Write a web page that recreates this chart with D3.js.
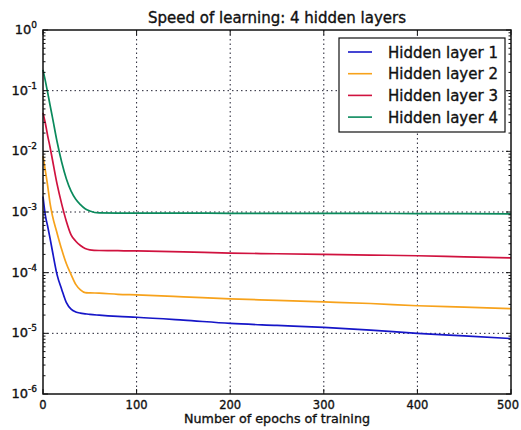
<!DOCTYPE html>
<html>
<head>
<meta charset="utf-8">
<script src="https://cdn.jsdelivr.net/npm/d3@7"></script>
<style>
  body { margin: 0; background: #fff; }
  text { font-family: "DejaVu Sans", sans-serif; fill: #111; stroke: #111; stroke-width: 0.35px; }
</style>
</head>
<body>
<div id="chart"></div>
<script>
// Data
const epochs = [0, 2.5, 5, 7.5, 10, 15, 20, 25, 30, 35, 40, 45, 50, 60, 80, 100, 150, 200, 250, 300, 350, 400, 450, 500];

const layer1 = [0.0018, 0.00088, 0.00058, 0.00037, 0.00023, 0.000093, 0.000053, 0.000032, 0.000025, 0.0000225, 0.0000215, 0.000021, 0.0000205, 0.0000199, 0.000019, 0.0000184, 0.0000165, 0.0000146, 0.0000135, 0.0000125, 0.0000113, 0.00001, 0.0000091, 0.0000082];
const layer2 = [0.0084, 0.0048, 0.0027, 0.0014, 0.00088, 0.00045, 0.00024, 0.00014, 0.000093, 0.000064, 0.000052, 0.000047, 0.0000465, 0.000046, 0.000044, 0.000043, 0.00004, 0.000037, 0.000035, 0.000033, 0.000031, 0.0000285, 0.000027, 0.0000255];
const layer3 = [0.043, 0.029, 0.018, 0.0118, 0.0074, 0.0029, 0.00135, 0.0007, 0.00042, 0.00033, 0.00028, 0.00025, 0.000238, 0.000232, 0.00023, 0.000228, 0.00022, 0.00021, 0.000205, 0.0002, 0.000195, 0.00019, 0.000182, 0.000175];
const layer4 = [0.22, 0.145, 0.093, 0.058, 0.037, 0.0145, 0.0066, 0.0035, 0.0022, 0.00162, 0.00132, 0.00113, 0.00104, 0.000965, 0.00096, 0.00096, 0.00096, 0.00095, 0.00095, 0.00095, 0.00095, 0.00094, 0.00094, 0.00093];

const seriesNames = ["Hidden layer 1", "Hidden layer 2", "Hidden layer 3", "Hidden layer 4"];
const seriesColors = ["#1616c8", "#f7a21b", "#d0123f", "#0a8a5c"];
const xTicks = [0, 100, 200, 300, 400, 500];
const yExponents = [0, -1, -2, -3, -4, -5, -6];

const series = [layer1, layer2, layer3, layer4].map((vals, i) => ({
    name: seriesNames[i],
    color: seriesColors[i],
    points: epochs.map((e, j) => ({ epoch: e, value: vals[j] }))
}));

const W = 521, H = 430;
const margin = { top: 30, right: 10, bottom: 36, left: 43 };
const width = W - margin.left - margin.right,
    height = H - margin.top - margin.bottom;

const svg = d3.select("#chart")
    .append("svg")
    .attr("width", W)
    .attr("height", H);

const g = svg.append("g")
    .attr("transform", `translate(${margin.left},${margin.top})`);

const x = d3.scaleLinear().domain([0, 500]).range([0, width]);
const y = d3.scaleLog().domain([1e-6, 1]).range([height, 0]);

// Grid (dotted)
g.append("g").selectAll("line")
    .data(xTicks.slice(1, -1))
    .enter().append("line")
    .attr("x1", d => x(d)).attr("x2", d => x(d))
    .attr("y1", 0).attr("y2", height)
    .attr("stroke", "#223")
    .attr("stroke-width", 1)
    .attr("stroke-dasharray", "1.5,3");

g.append("g").selectAll("line")
    .data(yExponents.slice(1, -1))
    .enter().append("line")
    .attr("x1", 0).attr("x2", width)
    .attr("y1", d => y(Math.pow(10, d))).attr("y2", d => y(Math.pow(10, d)))
    .attr("stroke", "#223")
    .attr("stroke-width", 1)
    .attr("stroke-dasharray", "1.5,3");

// Lines
const line = d3.line()
    .x(d => x(d.epoch))
    .y(d => y(d.value))
    .curve(d3.curveMonotoneX);

g.selectAll(".series")
    .data(series)
    .enter().append("path")
    .attr("class", "series")
    .attr("fill", "none")
    .attr("stroke", d => d.color)
    .attr("stroke-width", 1.7)
    .attr("d", d => line(d.points));

// Ticks inside, on all four sides
const minorVals = [];
for (let e = -6; e < 0; e++) {
    for (let m = 2; m <= 9; m++) minorVals.push(m * Math.pow(10, e));
}

const ticks = g.append("g").attr("stroke", "#111").attr("stroke-width", 1);
xTicks.forEach(t => {
    ticks.append("line").attr("x1", x(t)).attr("x2", x(t)).attr("y1", height).attr("y2", height - 5);
    ticks.append("line").attr("x1", x(t)).attr("x2", x(t)).attr("y1", 0).attr("y2", 5);
});
yExponents.forEach(e => {
    const yy = y(Math.pow(10, e));
    ticks.append("line").attr("x1", 0).attr("x2", 5).attr("y1", yy).attr("y2", yy);
    ticks.append("line").attr("x1", width).attr("x2", width - 5).attr("y1", yy).attr("y2", yy);
});
minorVals.forEach(v => {
    const yy = y(v);
    ticks.append("line").attr("x1", 0).attr("x2", 2.5).attr("y1", yy).attr("y2", yy);
    ticks.append("line").attr("x1", width).attr("x2", width - 2.5).attr("y1", yy).attr("y2", yy);
});

// Frame
g.append("rect")
    .attr("width", width)
    .attr("height", height)
    .attr("fill", "none")
    .attr("stroke", "#111")
    .attr("stroke-width", 1.5);

// X tick labels
g.append("g").selectAll("text")
    .data(xTicks)
    .enter().append("text")
    .attr("x", (d, i) => x(d) - (i === xTicks.length - 1 ? 3 : 0))
    .attr("y", height + 14.5)
    .attr("text-anchor", "middle")
    .style("font-size", "11.5px")
    .text(d => d);

// Y tick labels 10^n
const yl = g.append("g").selectAll("text")
    .data(yExponents)
    .enter().append("text")
    .attr("x", -6)
    .attr("y", d => y(Math.pow(10, d)) + 4)
    .attr("text-anchor", "end")
    .style("font-size", "13px");
yl.append("tspan").text("10");
yl.append("tspan")
    .attr("dy", -6)
    .style("font-size", "9px")
    .text(d => d);

// Title
svg.append("text")
    .attr("x", 277)
    .attr("y", 23)
    .attr("text-anchor", "middle")
    .style("font-size", "15px")
    .text("Speed of learning: 4 hidden layers");

// X axis label
svg.append("text")
    .attr("x", 277)
    .attr("y", 422.5)
    .attr("text-anchor", "middle")
    .style("font-size", "12.7px")
    .text("Number of epochs of training");

// Legend
const legend = g.append("g").attr("transform", `translate(${width - 172},8)`);
legend.append("rect")
    .attr("width", 166)
    .attr("height", 94)
    .attr("fill", "#fff")
    .attr("stroke", "#111")
    .attr("stroke-width", 1.2);

const items = legend.selectAll(".item")
    .data(series)
    .enter().append("g")
    .attr("class", "item")
    .attr("transform", (d, i) => `translate(0,${14 + i * 21.7})`);
items.append("line")
    .attr("x1", 9).attr("x2", 33)
    .attr("y1", 0).attr("y2", 0)
    .attr("stroke", d => d.color)
    .attr("stroke-width", 1.6);
items.append("text")
    .attr("x", 49)
    .attr("y", 5.5)
    .style("font-size", "15px")
    .text(d => d.name);
</script>
</body>
</html>
